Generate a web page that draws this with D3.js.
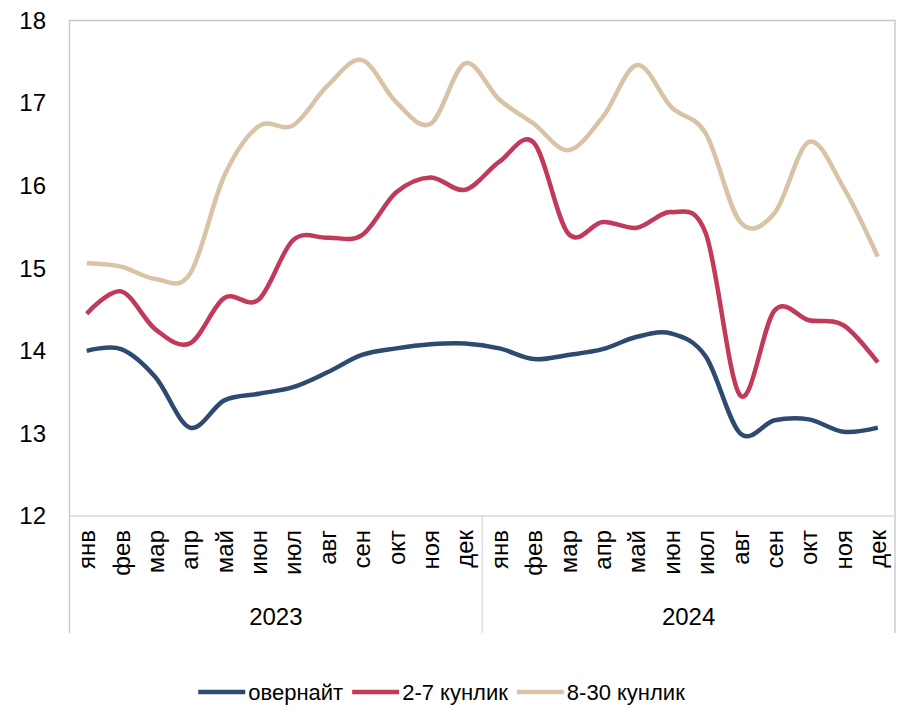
<!DOCTYPE html>
<html>
<head>
<meta charset="utf-8">
<script src="https://cdn.jsdelivr.net/npm/d3@7"></script>
<style>
  body { margin: 0; background: #fff; }
  svg text { font-family: "Liberation Sans", Arial, sans-serif; fill: #000; }
</style>
</head>
<body>
<svg id="chart" width="901" height="710"></svg>
<script>
// Month labels and years
var months = ["янв", "фев", "мар", "апр", "май", "июн", "июл", "авг", "сен", "окт", "ноя", "дек"];
var years = ["2023", "2024"];
var yTicks = [12, 13, 14, 15, 16, 17, 18];

// Series values (2023 Jan .. 2024 Dec)
var overnight = [14.00, 14.02, 13.68, 13.07, 13.40, 13.48, 13.56, 13.74, 13.95, 14.03, 14.08, 14.09,
                 14.03, 13.90, 13.95, 14.02, 14.17, 14.21, 13.93, 13.00, 13.16, 13.17, 13.02, 13.07];
var days2to7 = [14.45, 14.72, 14.26, 14.09, 14.64, 14.62, 15.34, 15.37, 15.40, 15.92, 16.10, 15.95,
                16.29, 16.52, 15.42, 15.56, 15.49, 15.68, 15.42, 13.46, 14.49, 14.37, 14.31, 13.86];
var days8to30 = [15.06, 15.02, 14.87, 14.93, 16.12, 16.72, 16.73, 17.21, 17.52, 17.01, 16.75, 17.48,
                 17.04, 16.75, 16.43, 16.83, 17.46, 16.95, 16.63, 15.56, 15.67, 16.53, 15.98, 15.14];

var seriesNames = ["овернайт", "2-7 кунлик", "8-30 кунлик"];
var seriesColors = ["#2f4a70", "#c13a5a", "#d8c3a6"];

var svg = d3.select("#chart");
var plotLeft = 69.5, plotRight = 895, plotTop = 20.5, plotBottom = 516, axisBottom = 633;

// one key per month, keeps both years apart
var keys = [];
years.forEach(function (yr) {
  months.forEach(function (m) { keys.push(yr + "-" + m); });
});

var x = d3.scaleBand().domain(keys).range([plotLeft, plotRight]);
var y = d3.scaleLinear().domain([12, 18]).range([plotBottom, plotTop]);

// Plot box
svg.append("path")
  .attr("d", "M" + plotLeft + "," + axisBottom + "V" + plotTop + "H" + plotRight + "V" + axisBottom)
  .attr("fill", "none")
  .attr("stroke", "#c6c6c6")
  .attr("stroke-width", 1.3);

// Category axis line and year separator
svg.append("line")
  .attr("x1", plotLeft).attr("x2", plotRight)
  .attr("y1", plotBottom).attr("y2", plotBottom)
  .attr("stroke", "#d9d9d9").attr("stroke-width", 1.3);

var sepX = x(keys[12]);
svg.append("line")
  .attr("x1", sepX).attr("x2", sepX)
  .attr("y1", plotBottom).attr("y2", axisBottom)
  .attr("stroke", "#d9d9d9").attr("stroke-width", 1.3);

// Y tick labels
svg.append("g")
  .selectAll("text")
  .data(yTicks)
  .enter()
  .append("text")
  .attr("x", 46)
  .attr("y", function (d) { return y(d); })
  .attr("dy", "0.35em")
  .attr("text-anchor", "end")
  .attr("font-size", 24)
  .text(function (d) { return d; });

// Month labels (rotated)
svg.append("g")
  .selectAll("text")
  .data(keys)
  .enter()
  .append("text")
  .attr("transform", function (d) {
    return "translate(" + (x(d) + x.bandwidth() / 2) + "," + 530 + ") rotate(-90)";
  })
  .attr("dy", "0.35em")
  .attr("text-anchor", "end")
  .attr("font-size", 24)
  .text(function (d) { return d.split("-")[1]; });

// Year labels
svg.append("g")
  .selectAll("text")
  .data(years)
  .enter()
  .append("text")
  .attr("x", function (yr, i) {
    var a = x(keys[i * 12]);
    var b = x(keys[i * 12 + 11]) + x.bandwidth();
    return (a + b) / 2;
  })
  .attr("y", 625)
  .attr("text-anchor", "middle")
  .attr("font-size", 24)
  .text(function (d) { return d; });

// Lines
var line = d3.line()
  .x(function (d, i) { return x(keys[i]) + x.bandwidth() / 2; })
  .y(function (d) { return y(d); })
  .curve(d3.curveCardinal.tension(0));

var allSeries = [overnight, days2to7, days8to30];
// draw back to front: 8-30 first
[2, 1, 0].forEach(function (si) {
  svg.append("path")
    .datum(allSeries[si])
    .attr("d", line)
    .attr("fill", "none")
    .attr("stroke", seriesColors[si])
    .attr("stroke-width", 4.5)
    .attr("stroke-linejoin", "round");
});

// Legend
var legend = svg.append("g").attr("class", "legend");
var lx = 0;
seriesNames.forEach(function (name, i) {
  var item = legend.append("g").attr("transform", "translate(" + lx + ",0)");
  item.append("line")
    .attr("x1", 0).attr("x2", 47)
    .attr("y1", 0).attr("y2", 0)
    .attr("stroke", seriesColors[i])
    .attr("stroke-width", 4.5);
  var t = item.append("text")
    .attr("x", 50)
    .attr("dy", "0.35em")
    .attr("font-size", 22)
    .text(name);
  lx += 50 + t.node().getComputedTextLength() + 9;
});
var legendWidth = lx - 9;
legend.attr("transform", "translate(" + (441.5 - legendWidth / 2) + ",692)");
</script>
</body>
</html>
